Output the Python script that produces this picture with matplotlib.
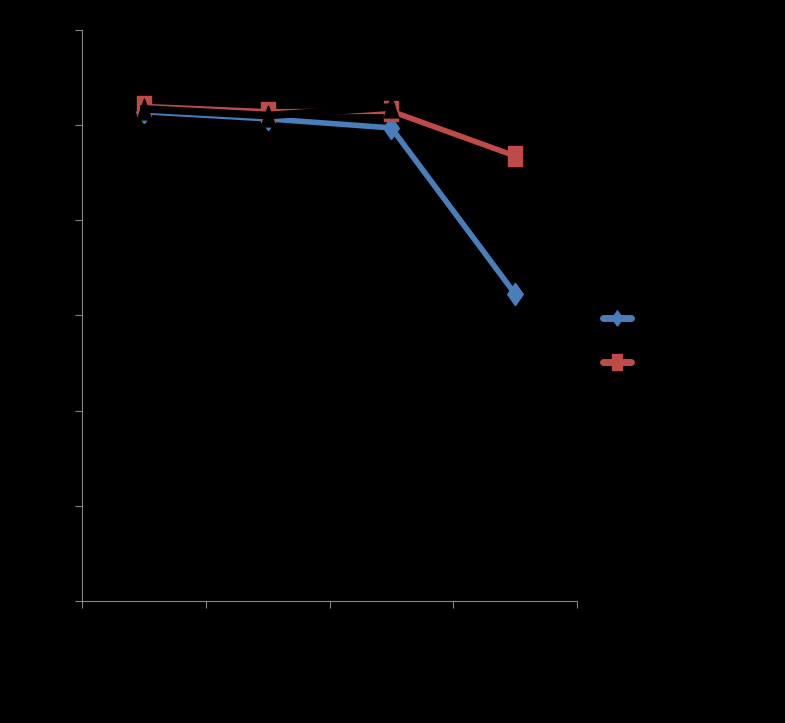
import matplotlib.pyplot as plt

categories = ['1', '2', '3', '4']
series_names = ['Series1', 'Series2', 'Series3']
blue_vals = [102.8, 101.3, 99.4, 64.5]
red_vals = [103.9, 102.8, 102.9, 93.5]
black_vals = [103.4, 102.0, 103.8, float('nan')]

# markers look stretched vertically in the original picture
tall_square = [(-0.7, -1), (0.7, -1), (0.7, 1), (-0.7, 1), (-0.7, -1)]
tall_triangle = [(-0.7, -1), (0.7, -1), (0, 1), (-0.7, -1)]
tall_diamond = [(0, -1), (0.7, 0), (0, 1), (-0.7, 0), (0, -1)]


def main():
    fig = plt.figure(figsize=(7.85, 7.23), dpi=100, facecolor='black')
    ax = fig.add_axes([0.1045, 0.1687, 0.6306, 0.79])
    ax.set_facecolor('black')

    xs = [i + 1 for i in range(len(categories))]
    ax.plot(xs, blue_vals, color='#4a7ebb', lw=4, marker=tall_diamond, ms=16,
            label=series_names[0])
    ax.plot(xs, red_vals, color='#be4b48', lw=4, marker=tall_square, ms=15,
            label=series_names[1])
    ax.plot(xs, black_vals, color='black', lw=5.5, marker=tall_triangle, ms=15,
            label=series_names[2])

    ax.set_xlim(0.5, 4.5)
    ax.set_ylim(0, 120)
    ax.set_xticks([0.5, 1.5, 2.5, 3.5, 4.5])
    ax.set_xticklabels([''] * 5)
    ax.set_yticks(range(0, 121, 20))
    ax.tick_params(colors='#868686', labelcolor='black', length=5)
    for s in ['top', 'right']:
        ax.spines[s].set_visible(False)
    for s in ['left', 'bottom']:
        ax.spines[s].set_color('#868686')

    leg = fig.legend(loc='center left', bbox_to_anchor=(0.752, 0.4977),
                     frameon=False, handlelength=2.0, labelspacing=2.2,
                     labelcolor='black')
    for line in leg.get_lines():
        line.set_linewidth(5)
        line.set_solid_capstyle('round')
        line.set_markersize(11)
    fig.savefig('out.png', facecolor='black')


if __name__ == "__main__":
    main()
